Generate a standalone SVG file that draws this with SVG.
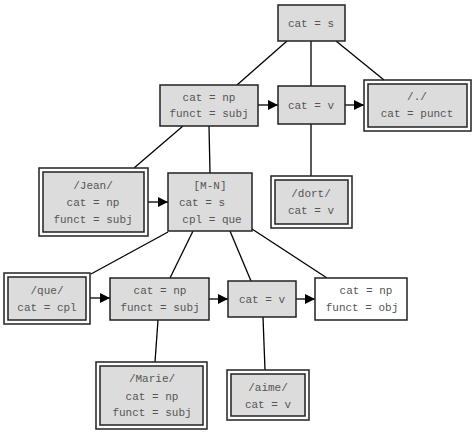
<svg xmlns="http://www.w3.org/2000/svg" width="474" height="434" viewBox="0 0 474 434">
<defs>
<marker id="arr" viewBox="0 0 10 10" refX="10" refY="5" markerWidth="10" markerHeight="10" markerUnits="userSpaceOnUse" orient="auto">
<path d="M0,0 L10,5 L0,10 z" fill="#000"/>
</marker>
</defs>
<style>
.b{fill:#dcdcdc;stroke:#222;stroke-width:1.5}
.w{fill:#fff;stroke:#222;stroke-width:1.5}
.o{fill:none;stroke:#222;stroke-width:1.5}
text{font-family:"Liberation Mono","DejaVu Sans Mono",monospace;font-size:11px;fill:#555;text-anchor:middle}
.e line{stroke:#000;stroke-width:1.3}
.a{marker-end:url(#arr)}
</style>
<rect width="474" height="434" fill="#fff"/>
<g class="e" id="connectors">
<line x1="287" y1="41" x2="237" y2="85"/>
<line x1="311" y1="41" x2="311" y2="86"/>
<line x1="336" y1="41" x2="384" y2="80"/>
<line class="a" x1="258" y1="105" x2="278" y2="105"/>
<line class="a" x1="345" y1="105" x2="364" y2="105"/>
<line x1="183" y1="126" x2="134" y2="168"/>
<line x1="209" y1="126" x2="210" y2="173"/>
<line x1="311" y1="124" x2="311" y2="176"/>
<line class="a" x1="148" y1="202" x2="168" y2="202"/>
<line x1="168" y1="232" x2="91" y2="274"/>
<line x1="193" y1="231" x2="170" y2="278"/>
<line x1="230" y1="231" x2="251" y2="281"/>
<line x1="252" y1="229" x2="327" y2="278"/>
<line class="a" x1="90" y1="298" x2="110" y2="298"/>
<line class="a" x1="209" y1="299" x2="228" y2="299"/>
<line class="a" x1="296" y1="299" x2="315" y2="299"/>
<line x1="158" y1="320" x2="155" y2="362"/>
<line x1="263" y1="317" x2="265" y2="370"/>
</g>
<g id="n_s"><rect class="b" x="278" y="5" width="67" height="36"/><text x="311" y="27">cat = s</text></g>
<g id="n_np1"><rect class="b" x="160" y="85" width="98" height="41"/><text x="209" y="101">cat = np</text><text x="209" y="117">funct = subj</text></g>
<g id="n_v1"><rect class="b" x="278" y="86" width="67" height="38"/><text x="311" y="109">cat = v</text></g>
<g id="n_punct"><rect class="o" x="364" y="80" width="107" height="51"/><rect class="b" x="368" y="84" width="99" height="43"/><text x="417" y="100">/./</text><text x="417" y="117">cat = punct</text></g>
<g id="n_jean"><rect class="o" x="39" y="168" width="109" height="68"/><rect class="b" x="43" y="172" width="101" height="60"/><text x="93" y="189">/Jean/</text><text x="93" y="206">cat = np</text><text x="93" y="223">funct = subj</text></g>
<g id="n_mn"><rect class="b" x="168" y="173" width="84" height="58"/><text x="210" y="189">[M-N]</text><text x="202" y="206">cat = s</text><text x="212" y="223">cpl = que</text></g>
<g id="n_dort"><rect class="o" x="271" y="176" width="81" height="52"/><rect class="b" x="275" y="180" width="73" height="44"/><text x="311" y="197">/dort/</text><text x="311" y="214">cat = v</text></g>
<g id="n_que"><rect class="o" x="4" y="273" width="86" height="51"/><rect class="b" x="8" y="277" width="78" height="43"/><text x="47" y="294">/que/</text><text x="47" y="311">cat = cpl</text></g>
<g id="n_np2"><rect class="b" x="110" y="278" width="99" height="42"/><text x="160" y="294">cat = np</text><text x="160" y="311">funct = subj</text></g>
<g id="n_v2"><rect class="b" x="228" y="281" width="68" height="36"/><text x="262" y="303">cat = v</text></g>
<g id="n_np3"><rect class="w" x="315" y="278" width="92" height="42"/><text x="366" y="294">cat = np</text><text x="362" y="311">funct = obj</text></g>
<g id="n_marie"><rect class="o" x="96" y="362" width="111" height="67"/><rect class="b" x="100" y="366" width="103" height="59"/><text x="152" y="382">/Marie/</text><text x="152" y="400">cat = np</text><text x="152" y="416">funct = subj</text></g>
<g id="n_aime"><rect class="o" x="227" y="370" width="82" height="50"/><rect class="b" x="231" y="374" width="74" height="42"/><text x="268" y="391">/aime/</text><text x="268" y="408">cat = v</text></g>
</svg>
